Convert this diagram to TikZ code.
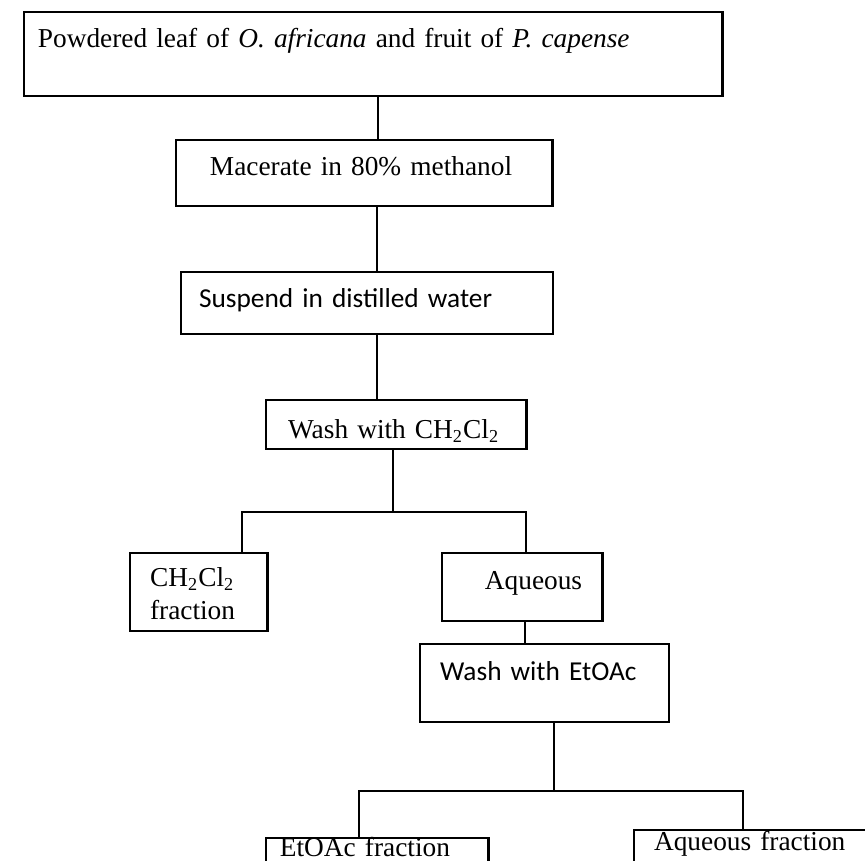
\documentclass[tikz,border=0pt]{standalone}
\usepackage{fontspec}
\setmainfont{Liberation Serif}
\newfontfamily\calibrifont{Carlito}
\tikzset{
    stepbox/.style={draw, line width=1.2pt, anchor=north west, align=left, inner ysep=0pt, outer sep=0pt, font=\fontsize{12}{14.5}\selectfont},
    sansbox/.style={stepbox, font=\calibrifont\fontsize{12}{14.5}\selectfont},
    link/.style={line width=1pt}
}

\begin{document}
\begin{tikzpicture}[x=0.4389pt, y=-0.4389pt]
    \path[fill=white, use as bounding box] (0,0) rectangle (865,861);
    \clip (0,0) rectangle (865,861);

    % 1. PLANT MATERIAL AND FIRST STEPS
    \node[stepbox, inner xsep=6.1pt, text width=294.5pt, text height=15.4pt, text depth=21.5pt] (powder) at (24,12) {Powdered leaf of \textit{O. africana} and fruit of \textit{P. capense}};
    \node[stepbox, inner xsep=14.9pt, text width=135.6pt, text height=15.4pt, text depth=13.6pt] (macerate) at (176,140) {Macerate in 80\% methanol};
    \node[sansbox, inner xsep=7.9pt, text width=147.5pt, text height=15.4pt, text depth=11.85pt] (suspend) at (181,272) {Suspend in distilled water};
    \node[stepbox, inner xsep=9.7pt, text width=94.8pt, text height=16.7pt, text depth=4.8pt] (washdcm) at (266,400) {Wash with CH\textsubscript{2}Cl\textsubscript{2}};

    \draw[link] (powder.south -| 378,0) -- (macerate.north -| 378,0);
    \draw[link] (macerate.south -| 377,0) -- (suspend.north -| 377,0);
    \draw[link] (suspend.south -| 377,0) -- (washdcm.north -| 377,0);

    % 2. FIRST PARTITION (CH2Cl2)
    \node[stepbox, inner xsep=8.8pt, text width=42.6pt, text height=14.5pt, text depth=19.75pt] (dcmfrac) at (130,553) {CH\textsubscript{2}Cl\textsubscript{2}\\fraction};
    \node[stepbox, align=right, inner xsep=8.8pt, text width=52.7pt, text height=15.8pt, text depth=14pt] (aqueous) at (442,553) {Aqueous};
    \coordinate (split1) at (393,512);
    \draw[link] (washdcm.south -| split1) -- (split1);
    \draw[link] (dcmfrac.north -| 242,0) |- (split1) -| (aqueous.north -| 526,0);

    % 3. SECOND PARTITION (EtOAc)
    \node[sansbox, inner xsep=8.8pt, text width=91.7pt, text height=15.8pt, text depth=18.4pt] (washea) at (420,644) {Wash with EtOAc};
    \draw[link] (aqueous.south -| 525,0) -- (washea.north -| 525,0);
    \node[stepbox, inner xsep=6.1pt, text width=85.6pt, text height=8.2pt, text depth=12pt] (eafrac) at (266,838) {EtOAc fraction};
    \node[stepbox, inner xsep=8.8pt, text width=94.8pt, text height=9.2pt, text depth=16pt] (aqfrac) at (634,830) {Aqueous fraction};
    \coordinate (split2) at (554,791);
    \draw[link] (washea.south -| split2) -- (split2);
    \draw[link] (eafrac.north -| 359,0) |- (split2) -| (aqfrac.north -| 743,0);

\end{tikzpicture}
\end{document}
